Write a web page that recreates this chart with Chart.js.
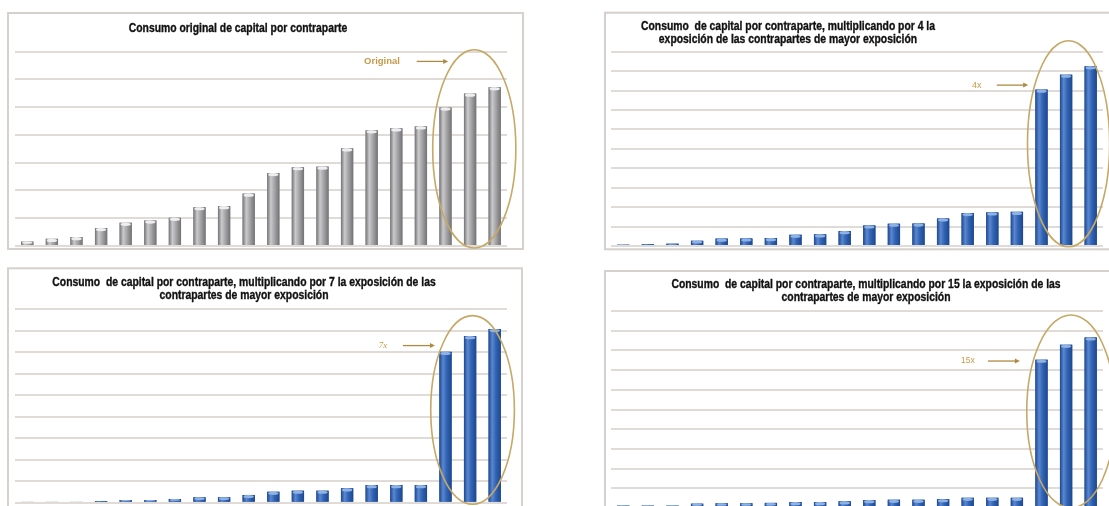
<!DOCTYPE html>
<html>
<head>
<meta charset="utf-8">
<script src="https://cdn.jsdelivr.net/npm/chart.js@4.4.1/dist/chart.umd.min.js"></script>
<style>
  html, body { margin: 0; padding: 0; background: #fff; overflow: hidden; width: 1109px; height: 506px; }
  .panel { position: absolute; }
  canvas { display: block; }
</style>
</head>
<body>
<div class="panel" style="left:0;top:0"><canvas id="c1" width="540" height="253"></canvas></div>
<div class="panel" style="left:560px;top:0"><canvas id="c2" width="549" height="253"></canvas></div>
<div class="panel" style="left:0;top:255px"><canvas id="c3" width="540" height="251"></canvas></div>
<div class="panel" style="left:560px;top:255px"><canvas id="c4" width="549" height="260"></canvas></div>
<script>
"use strict";

// 20 contrapartes, ordenadas por consumo
const contrapartes = ["C1", "C2", "C3", "C4", "C5", "C6", "C7", "C8", "C9", "C10",
  "C11", "C12", "C13", "C14", "C15", "C16", "C17", "C18", "C19", "C20"];

// consumo de capital (en unidades de la rejilla de cada gráfico)
const consumoOriginal = [0.16, 0.26, 0.32, 0.65, 0.84, 0.92, 1.02, 1.40, 1.44, 1.89,
  2.63, 2.84, 2.86, 3.52, 4.17, 4.24, 4.31, 4.99, 5.49, 5.72];
const consumoX4 = [0.07, 0.09, 0.12, 0.27, 0.38, 0.39, 0.41, 0.58, 0.60, 0.77,
  1.06, 1.15, 1.16, 1.42, 1.70, 1.73, 1.76, 8.05, 8.82, 9.25];
const consumoX7 = [0.04, 0.04, 0.04, 0.08, 0.12, 0.12, 0.17, 0.25, 0.25, 0.36,
  0.51, 0.56, 0.56, 0.67, 0.82, 0.82, 0.82, 7.01, 7.74, 8.07];
const consumoX15 = [0.12, 0.12, 0.12, 0.22, 0.24, 0.24, 0.26, 0.3, 0.3, 0.34,
  0.4, 0.42, 0.42, 0.45, 0.52, 0.52, 0.52, 7.53, 8.29, 8.66];

// máximo del eje y (una línea de rejilla por unidad)
const maximosEje = [7, 10, 9, 10];

const titulos = [
  ["Consumo original de capital por contraparte"],
  ["Consumo  de capital por contraparte, multiplicando por 4 la", "exposición de las contrapartes de mayor exposición"],
  ["Consumo  de capital por contraparte, multiplicando por 7 la exposición de las", "contrapartes de mayor exposición"],
  ["Consumo  de capital por contraparte, multiplicando por 15 la exposición de las", "contrapartes de mayor exposición"]
];
const etiquetas = ["Original", "4x", "7x", "15x"];

const GRIS = { base: "#a4a4a7", borde: "#727275", luz: "#cacacc", tapa: "#eeeef0" };
const AZUL = { base: "#3163b3", borde: "#1d478e", luz: "#5a87d0", tapa: "#8fb2e5" };
const DORADO = "#c6a867";

// marco gris del panel
function marco(r) {
  return {
    id: "marco",
    beforeDraw(chart) {
      const ctx = chart.ctx;
      ctx.save();
      ctx.strokeStyle = "#d6d1cc";
      ctx.lineWidth = 2;
      ctx.strokeRect(r.x, r.y, r.w, r.h);
      ctx.restore();
    }
  };
}

// título en negrita, estrechado para parecerse a la fuente original
function titulo(lineas, x, y) {
  return {
    id: "titulo",
    afterDraw(chart) {
      const ctx = chart.ctx;
      ctx.save();
      ctx.font = 'bold 12.5px "Liberation Sans", Arial, sans-serif';
      ctx.fillStyle = "#111";
      ctx.strokeStyle = "#111";
      ctx.lineWidth = 0.35;
      ctx.textAlign = "center";
      ctx.textBaseline = "middle";
      lineas.forEach((t, i) => {
        ctx.save();
        ctx.translate(x, y + i * 13.3);
        ctx.scale(0.83, 1);
        ctx.fillText(t, 0, 0);
        ctx.strokeText(t, 0, 0);
        ctx.restore();
      });
      ctx.restore();
    }
  };
}

// sombreado cilíndrico de las barras
function cilindros(c) {
  return {
    id: "cilindros",
    afterDatasetsDraw(chart) {
      const ctx = chart.ctx;
      chart.getDatasetMeta(0).data.forEach(bar => {
        const { x, y, base, width } = bar.getProps(["x", "y", "base", "width"], true);
        const l = x - width / 2;
        const alto = base - y;
        const g = ctx.createLinearGradient(l, 0, l + width, 0);
        g.addColorStop(0, c.borde);
        g.addColorStop(0.3, c.luz);
        g.addColorStop(0.6, c.base);
        g.addColorStop(1, c.borde);
        ctx.save();
        ctx.fillStyle = g;
        ctx.fillRect(l, y, width, alto);
        const ry = Math.min(1.6, alto / 3);
        if (ry > 0.3) {
          ctx.fillStyle = c.tapa;
          ctx.beginPath();
          ctx.ellipse(x, y + ry, width / 2 - 1, ry, 0, 0, Math.PI * 2);
          ctx.fill();
        }
        ctx.restore();
      });
    }
  };
}

// elipse, flecha y etiqueta que resaltan las tres mayores contrapartes
function resalte(a) {
  return {
    id: "resalte",
    afterDatasetsDraw(chart) {
      const xs = chart.scales.x, ys = chart.scales.y, ctx = chart.ctx;
      ctx.save();
      ctx.strokeStyle = DORADO;
      ctx.lineWidth = 1.6;
      const cx = xs.getPixelForValue(a.cx), cy = ys.getPixelForValue(a.cy);
      const rx = Math.abs(xs.getPixelForValue(a.cx + a.rx) - cx);
      const ry = Math.abs(ys.getPixelForValue(a.cy + a.ry) - cy);
      ctx.beginPath();
      ctx.ellipse(cx, cy, rx, ry, 0, 0, Math.PI * 2);
      ctx.stroke();

      const fy = ys.getPixelForValue(a.v);
      const x0 = xs.getPixelForValue(a.desde), x1 = xs.getPixelForValue(a.hasta);
      ctx.strokeStyle = "#b08a40";
      ctx.fillStyle = "#b08a40";
      ctx.lineWidth = 1.3;
      ctx.beginPath();
      ctx.moveTo(x0, fy);
      ctx.lineTo(x1 - 3, fy);
      ctx.stroke();
      ctx.beginPath();
      ctx.moveTo(x1, fy);
      ctx.lineTo(x1 - 5, fy - 2.5);
      ctx.lineTo(x1 - 5, fy + 2.5);
      ctx.closePath();
      ctx.fill();

      ctx.fillStyle = "#c79a48";
      ctx.font = a.fuente;
      ctx.textAlign = "center";
      ctx.textBaseline = "middle";
      ctx.fillText(a.texto, xs.getPixelForValue(a.i), fy);
      ctx.restore();
    }
  };
}

function crearPanel(id, datos, max, color, padding, plugins) {
  return new Chart(document.getElementById(id), {
    type: "bar",
    data: {
      labels: contrapartes,
      datasets: [{
        data: datos,
        backgroundColor: color.base,
        borderWidth: 0,
        categoryPercentage: 1,
        barPercentage: 0.5
      }]
    },
    options: {
      responsive: false,
      animation: false,
      events: [],
      layout: { padding: padding },
      plugins: { legend: { display: false }, tooltip: { enabled: false }, title: { display: false } },
      scales: {
        x: { display: false },
        y: {
          min: 0,
          max: max,
          ticks: { display: false, stepSize: 1 },
          border: { display: false },
          grid: { color: "#e0dbd6", lineWidth: 2, drawTicks: false }
        }
      }
    },
    plugins: plugins
  });
}

crearPanel("c1", consumoOriginal, maximosEje[0], GRIS,
  { left: 15, right: 33, top: 51.7, bottom: 7 }, [
    marco({ x: 8, y: 13, w: 515, h: 236 }),
    cilindros(GRIS),
    resalte({ cx: 18.17, cy: 3.5, rx: 1.69, ry: 3.57, v: 6.65, desde: 15.83, hasta: 17.11, i: 14.42,
      texto: etiquetas[0], fuente: 'bold 9.5px "Liberation Sans", Arial, sans-serif' }),
    titulo(titulos[0], 238, 28.3)
  ]);

crearPanel("c2", consumoX4, maximosEje[1], AZUL,
  { left: 51, right: 6, top: 51.7, bottom: 7 }, [
    marco({ x: 45, y: 12.7, w: 520, h: 236.6 }),
    cilindros(AZUL),
    resalte({ cx: 18.1, cy: 5.26, rx: 1.67, ry: 5.3, v: 8.28, desde: 15.18, hasta: 16.46, i: 14.37,
      texto: etiquetas[1], fuente: '9px "Liberation Sans", Arial, sans-serif' }),
    titulo(titulos[1], 228, 26.7)
  ]);

crearPanel("c3", consumoX7, maximosEje[2], AZUL,
  { left: 15, right: 33, top: 54, bottom: 3.3 }, [
    marco({ x: 8, y: 13.3, w: 514, h: 300 }),
    cilindros(AZUL),
    resalte({ cx: 18.1, cy: 4.31, rx: 1.7, ry: 4.38, v: 7.3, desde: 15.27, hasta: 16.57, i: 14.46,
      texto: etiquetas[2], fuente: 'italic 9px "Liberation Serif", serif' }),
    titulo(titulos[2], 244, 27.3)
  ]);

crearPanel("c4", consumoX15, maximosEje[3], AZUL,
  { left: 51, right: 6, top: 56, bottom: 7 }, [
    marco({ x: 45, y: 16, w: 520, h: 300 }),
    cilindros(AZUL),
    resalte({ cx: 18.2, cy: 4.9, rx: 1.8, ry: 4.9, v: 7.46, desde: 14.82, hasta: 16.12, i: 14.01,
      texto: etiquetas[3], fuente: '8.5px "Liberation Sans", Arial, sans-serif' }),
    titulo(titulos[3], 306, 29.3)
  ]);
</script>
</body>
</html>
